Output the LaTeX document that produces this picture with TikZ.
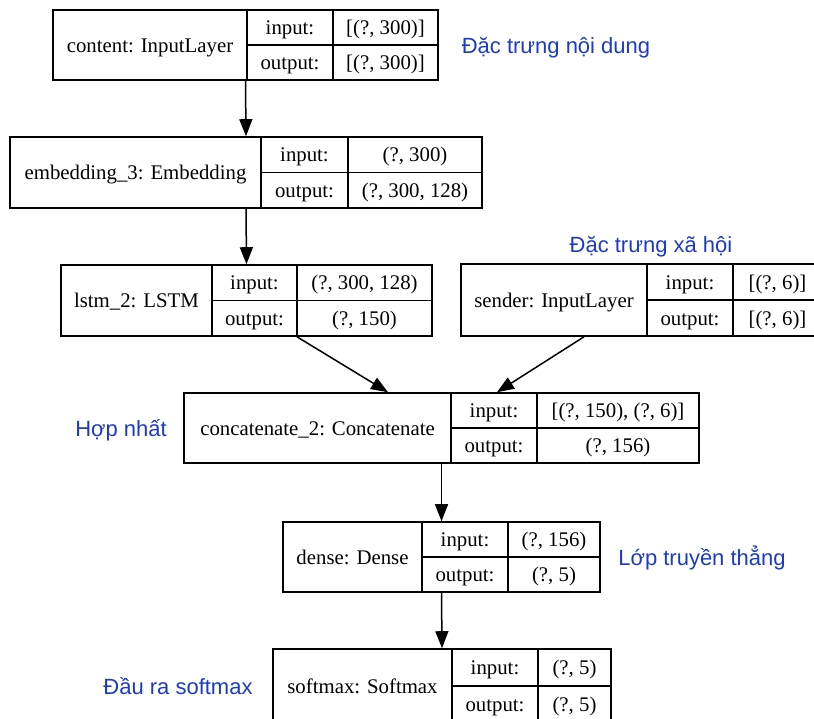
\documentclass[tikz,border=0pt]{standalone}
\usepackage{fontspec}
\setmainfont{Liberation Serif}
\newfontfamily\labfont{Liberation Sans}
\usetikzlibrary{arrows.meta,fit}
\definecolor{labblue}{RGB}{28,58,196}
\tikzset{
  cell/.style={font=\fontsize{20.8}{24}\selectfont, inner sep=0pt, anchor=base},
  frame/.style={draw, line width=1.6pt, inner sep=0pt},
  rule/.style={line width=1.6pt},
  arr/.style={line width=1.5pt, -{Triangle[length=17pt,width=13pt]}},
  note/.style={font=\labfont\fontsize{22}{26}\selectfont, text=labblue, inner sep=0pt, anchor=base},
}
% cap centre of text sits 7pt above its baseline
\newcommand\layerbox[8]{%
  \node[frame, fit={(#2,#6) (#5,#7)}] (#1) {};
  \draw[rule] (#3,#6) -- (#3,#7);
  \draw[rule] (#4,#6) -- (#4,#7);
  \draw[rule] (#3,{(#6+#7)/2}) -- (#5,{(#6+#7)/2});
  \node[cell] (#1-name) at ({(#2+#3)/2},{(#6+#7)/2+7}) {#8};
  \node[cell] (#1-inl) at ({(#3+#4)/2},{(3*#6+#7)/4+7}) {input:};
  \node[cell] (#1-outl) at ({(#3+#4)/2},{(#6+3*#7)/4+7}) {output:};
  \gdef\lbN{#1}\gdef\lbD{#4}\gdef\lbR{#5}\gdef\lbT{#6}\gdef\lbB{#7}%
}
\newcommand\layerio[2]{%
  \node[cell] (\lbN-inv) at ({(\lbD+\lbR)/2},{(3*\lbT+\lbB)/4+7}) {#1};
  \node[cell] (\lbN-outv) at ({(\lbD+\lbR)/2},{(\lbT+3*\lbB)/4+7}) {#2};
}
\begin{document}
\begin{tikzpicture}[x=1pt,y=-1pt]
\useasboundingbox (0,0) rectangle (814,718);
\clip (0,0) rectangle (814,718);

\layerbox{content}{53}{247}{333}{438}{10}{80}{content: InputLayer}
\layerio{[(?, 300)]}{[(?, 300)]}

\layerbox{embedding}{10}{261}{348}{482}{137}{208}{embedding\_3: Embedding}
\layerio{(?, 300)}{(?, 300, 128)}

\layerbox{lstm}{61}{212}{297}{432}{265}{336}{lstm\_2: LSTM}
\layerio{(?, 300, 128)}{(?, 150)}

\layerbox{sender}{461}{647}{733}{822}{264}{336}{sender: InputLayer}
\layerio{[(?, 6)]}{[(?, 6)]}

\layerbox{concat}{184}{451}{537}{699}{393}{463}{concatenate\_2: Concatenate}
\layerio{[(?, 150), (?, 6)]}{(?, 156)}

\layerbox{dense}{283}{422}{508}{600}{522}{592}{dense: Dense}
\layerio{(?, 156)}{(?, 5)}

\layerbox{softmax}{273}{452}{538}{611}{649}{723}{softmax: Softmax}
\layerio{(?, 5)}{(?, 5)}

\draw[arr] (content.south) -- (embedding.north);
\draw[arr] (embedding.south) -- (lstm.north);
\draw[arr] ([xshift=50.5pt]lstm.south) -- ([xshift=-53.5pt]concat.north);
\draw[arr] ([xshift=-57.5pt]sender.south) -- ([xshift=55.5pt]concat.north);
\draw[arr] (concat.south) -- (dense.north);
\draw[arr] (dense.south) -- (softmax.north);

\node[note] (noteContent) at (556,53) {Đặc trưng nội dung};
\node[note] (noteSocial) at (651,252) {Đặc trưng xã hội};
\node[note] (noteMerge) at (121,436) {Hợp nhất};
\node[note] (noteDense) at (702,565) {Lớp truyền thẳng};
\node[note] (noteOut) at (178,694) {Đầu ra softmax};
\end{tikzpicture}
\end{document}
